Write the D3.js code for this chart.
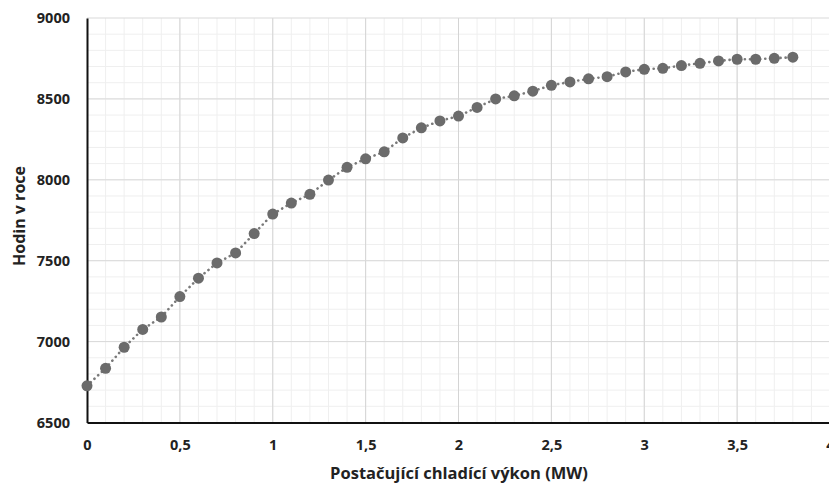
<!DOCTYPE html>
<html>
<head>
<meta charset="utf-8">
<script src="https://cdn.jsdelivr.net/npm/d3@7"></script>
<style>
  html, body { margin: 0; padding: 0; background: #fff; overflow: hidden; }
  svg { display: block; }
  text { font-family: "Open Sans", "Liberation Sans", sans-serif; font-weight: 700; fill: #222; }
</style>
</head>
<body>
<svg id="chart" width="829" height="484"></svg>
<script>
// Cooling capacity (MW) and the number of hours per year it suffices
const capacity = [0, 0.1, 0.2, 0.3, 0.4, 0.5, 0.6, 0.7, 0.8, 0.9,
                  1.0, 1.1, 1.2, 1.3, 1.4, 1.5, 1.6, 1.7, 1.8, 1.9,
                  2.0, 2.1, 2.2, 2.3, 2.4, 2.5, 2.6, 2.7, 2.8, 2.9,
                  3.0, 3.1, 3.2, 3.3, 3.4, 3.5, 3.6, 3.7, 3.8];
const hours = [6727, 6835, 6965, 7075, 7152, 7278, 7392, 7486, 7548, 7668,
               7788, 7856, 7910, 7998, 8077, 8130, 8173, 8259, 8321, 8364,
               8394, 8447, 8500, 8519, 8548, 8584, 8605, 8624, 8637, 8667,
               8683, 8689, 8706, 8720, 8735, 8745, 8745, 8751, 8758];
const xTicks = [0, 0.5, 1, 1.5, 2, 2.5, 3, 3.5, 4];
const yTicks = [6500, 7000, 7500, 8000, 8500, 9000];
const xTitle = "Postačující chladící výkon (MW)";
const yTitle = "Hodin v roce";

const svg = d3.select("#chart");
const m = { left: 87, top: 18, right: 830, bottom: 422.5 };

const x = d3.scaleLinear().domain([0, 4]).range([m.left, m.right]);
const y = d3.scaleLinear().domain([6500, 9000]).range([m.bottom, m.top]);

// Minor grid
const g = svg.append("g");
g.selectAll("line.mx").data(d3.range(1, 40).map(i => i / 10)).join("line")
  .attr("x1", d => x(d)).attr("x2", d => x(d))
  .attr("y1", m.top).attr("y2", m.bottom)
  .attr("stroke", "#efefef").attr("stroke-width", 1);
g.selectAll("line.my").data(d3.range(6600, 9000, 100)).join("line")
  .attr("x1", m.left).attr("x2", m.right)
  .attr("y1", d => y(d)).attr("y2", d => y(d))
  .attr("stroke", "#efefef").attr("stroke-width", 1);

// Major grid
g.selectAll("line.Mx").data(xTicks.slice(1)).join("line")
  .attr("x1", d => x(d)).attr("x2", d => x(d))
  .attr("y1", m.top).attr("y2", m.bottom)
  .attr("stroke", "#d4d4d4").attr("stroke-width", 1);
g.selectAll("line.My").data(yTicks.slice(1)).join("line")
  .attr("x1", m.left).attr("x2", m.right)
  .attr("y1", d => y(d)).attr("y2", d => y(d))
  .attr("stroke", "#d9d9d9").attr("stroke-width", 1);

// Axes
const fmt = d => String(d).replace(".", ",");
const xAxis = svg.append("g").attr("transform", `translate(0,${m.bottom})`)
  .call(d3.axisBottom(x).tickValues(xTicks).tickFormat(fmt).tickSize(0).tickPadding(17));
const yAxis = svg.append("g").attr("transform", `translate(${m.left},0)`)
  .call(d3.axisLeft(y).tickValues(yTicks).tickFormat(d => d).tickSize(0).tickPadding(17));
[xAxis, yAxis].forEach(a => {
  a.select(".domain").attr("stroke", "#111").attr("stroke-width", 2);
  a.selectAll("text").style("font-size", "14.5px").attr("fill", "#222");
});

// Dotted connecting line
svg.append("path")
  .datum(capacity.map((c, i) => [c, hours[i]]))
  .attr("fill", "none")
  .attr("stroke", "#7a7a7a")
  .attr("stroke-width", 2.6)
  .attr("stroke-linecap", "round")
  .attr("stroke-dasharray", "0.1,5")
  .attr("d", d3.line().x(d => x(d[0])).y(d => y(d[1])));

// Markers
svg.selectAll("circle.pt").data(capacity.map((c, i) => [c, hours[i]])).join("circle")
  .attr("cx", d => x(d[0])).attr("cy", d => y(d[1]))
  .attr("r", 5.5).attr("fill", "#6b6b6b");

// Titles
svg.append("text")
  .attr("x", 459).attr("y", 479)
  .attr("text-anchor", "middle")
  .style("font-size", "16.5px")
  .text(xTitle);
svg.append("text")
  .attr("transform", "translate(25,216) rotate(-90)")
  .attr("text-anchor", "middle")
  .style("font-size", "16px")
  .text(yTitle);
</script>
</body>
</html>
